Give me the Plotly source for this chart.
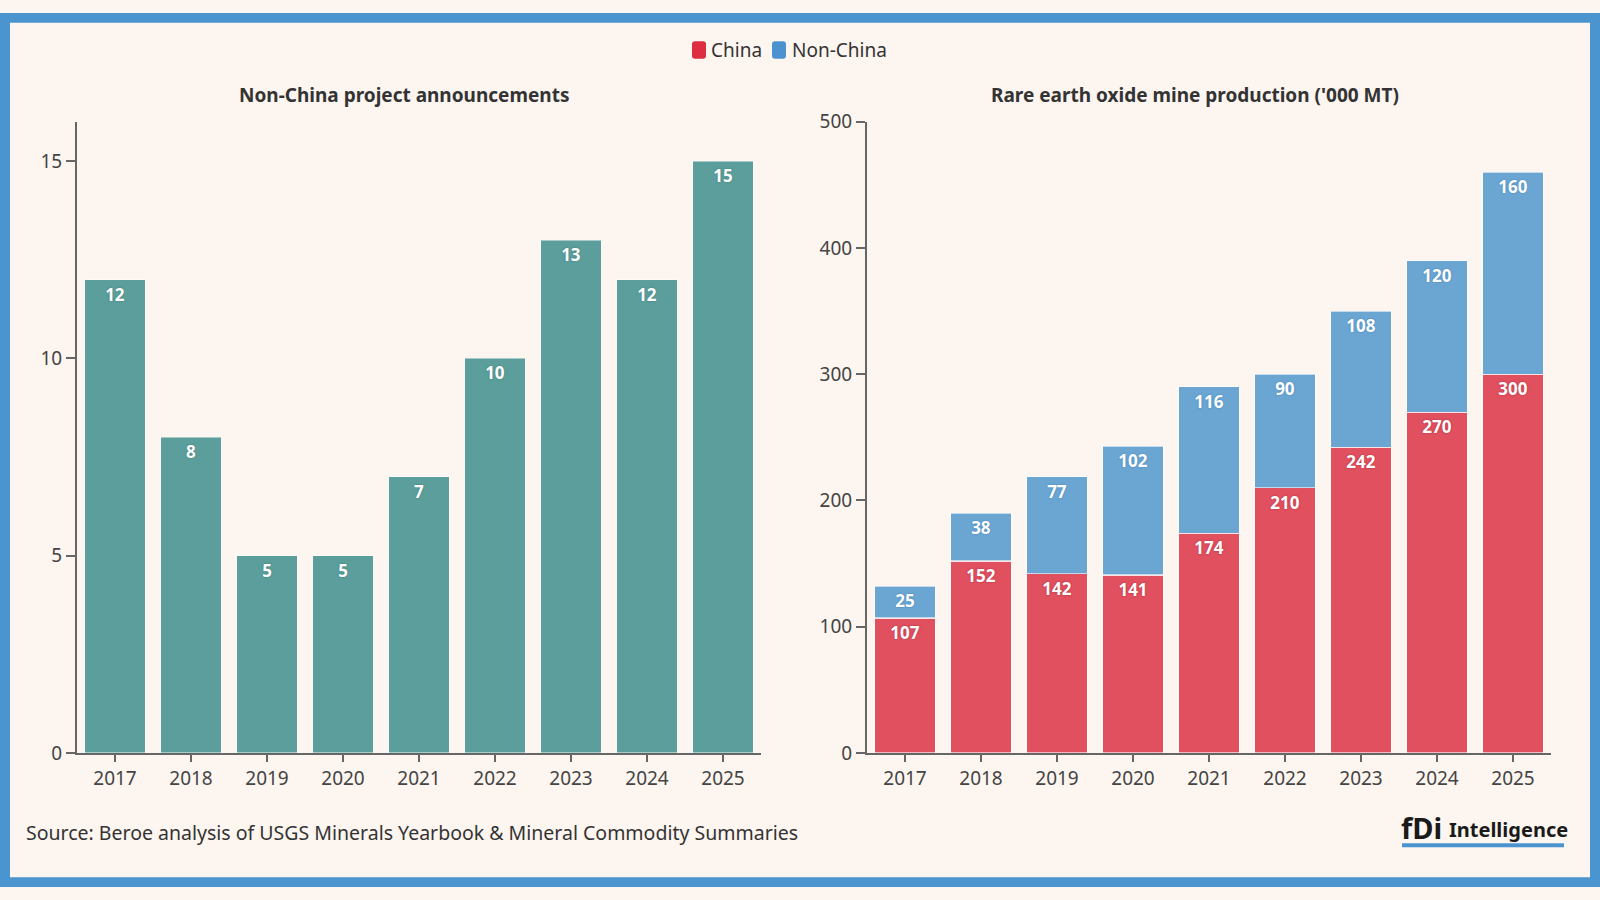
import plotly.graph_objects as go

# ---------------- data ----------------
years = ["2017", "2018", "2019", "2020", "2021", "2022", "2023", "2024", "2025"]
announcements = [12, 8, 5, 5, 7, 10, 13, 12, 15]
china = [107, 152, 142, 141, 174, 210, 242, 270, 300]
non_china = [25, 38, 77, 102, 116, 90, 108, 120, 160]
left_ticks = [0, 5, 10, 15]
right_ticks = [0, 100, 200, 300, 400, 500]

# ---------------- styling ----------------
W, H = 1600, 900
BG = "#FDF5F0"
FRAME = "#4A94D0"
TEAL = "#5C9E9B"
RED = "#E0505F"
BLUE = "#6BA6D3"
RED_LEG = "#DC2E40"
BLUE_LEG = "#4C92CF"
AXIS = "#666666"
TXT = "#333333"
FONT = "Noto Sans"

def px(x):
    return x / W

def py(y):
    return 1 - y / H

fig = go.Figure()

fig.add_trace(go.Bar(
    x=years, y=announcements, name="Non-China announcements",
    marker=dict(color=TEAL, line=dict(color="rgba(255,255,255,0.45)", width=1)),
    text=announcements, textposition="inside", insidetextanchor="end",
    textangle=0,
    textfont=dict(family=FONT, size=17, color="white", weight="bold",
                  shadow="0px 0px 2px #3d7a77"),
    xaxis="x", yaxis="y", showlegend=False, width=0.8,
))

fig.add_trace(go.Bar(
    x=years, y=china, name="China",
    marker=dict(color=RED, line=dict(color="rgba(255,255,255,0.6)", width=1.2)),
    text=china, textposition="inside", insidetextanchor="end", textangle=0,
    textfont=dict(family=FONT, size=17, color="white", weight="bold",
                  shadow="0px 0px 2px #b02a38"),
    xaxis="x2", yaxis="y2", showlegend=False, width=0.8,
))
fig.add_trace(go.Bar(
    x=years, y=non_china, name="Non-China",
    marker=dict(color=BLUE, line=dict(color="rgba(255,255,255,0.6)", width=1.2)),
    text=non_china, textposition="inside", insidetextanchor="end", textangle=0,
    textfont=dict(family=FONT, size=17, color="white", weight="bold",
                  shadow="0px 0px 2px #3f7db0"),
    xaxis="x2", yaxis="y2", showlegend=False, width=0.8,
))

y_dom = [py(762), py(112)]
common_x = dict(type="category", range=[-0.5, 8.5], showline=True, linecolor=AXIS,
                linewidth=2, ticks="outside", ticklen=7, tickwidth=2, tickcolor=AXIS,
                showgrid=False, zeroline=False, fixedrange=True,
                tickfont=dict(family=FONT, size=19, color="#444444"))
common_y = dict(showline=True, linecolor=AXIS, linewidth=2, ticks="outside",
                ticklen=9, tickwidth=2, tickcolor=AXIS, showgrid=False,
                zeroline=False, fixedrange=True,
                tickfont=dict(family=FONT, size=19, color="#444444"))

fig.update_layout(
    width=W, height=H,
    paper_bgcolor=BG, plot_bgcolor=BG,
    margin=dict(l=0, r=0, t=0, b=0),
    barmode="stack",
    font=dict(family=FONT, color=TXT),
    xaxis=dict(domain=[px(77), px(761)], anchor="y", **common_x),
    yaxis=dict(domain=y_dom, anchor="x", range=[0, 16], tickvals=left_ticks, **common_y),
    xaxis2=dict(domain=[px(867), px(1551)], anchor="y2", **common_x),
    yaxis2=dict(domain=y_dom, anchor="x2", range=[0, 500], tickvals=right_ticks, **common_y),
    showlegend=False,
)

ann = []
ann.append(dict(text="<b>Non-China project announcements</b>", x=px(404), y=py(84),
                xref="paper", yref="paper", showarrow=False, xanchor="center",
                yanchor="middle", font=dict(family=FONT, size=19, color=TXT)))
ann.append(dict(text="<b>Rare earth oxide mine production ('000 MT)</b>", x=px(1195), y=py(84),
                xref="paper", yref="paper", showarrow=False, xanchor="center",
                yanchor="middle", font=dict(family=FONT, size=19, color=TXT)))
ann.append(dict(text="Source: Beroe analysis of USGS Minerals Yearbook & Mineral Commodity Summaries",
                x=px(24), y=py(844), xref="paper", yref="paper", showarrow=False,
                xanchor="left", yanchor="middle", font=dict(family=FONT, size=19.5, color=TXT)))
ann.append(dict(text="China", x=px(709), y=py(38), xref="paper", yref="paper",
                showarrow=False, xanchor="left", yanchor="middle",
                font=dict(family=FONT, size=19, color=TXT)))
ann.append(dict(text="Non-China", x=px(790), y=py(38), xref="paper", yref="paper",
                showarrow=False, xanchor="left", yanchor="middle",
                font=dict(family=FONT, size=19, color=TXT)))
ann.append(dict(text="<b>fDi</b>", x=px(1399), y=py(839), xref="paper", yref="paper",
                showarrow=False, xanchor="left", yanchor="middle",
                font=dict(family="Liberation Sans Narrow, " + FONT, size=29, color="#1a1a1a")))
ann.append(dict(text="<b>Intelligence</b>", x=px(1447), y=py(841), xref="paper", yref="paper",
                showarrow=False, xanchor="left", yanchor="middle",
                font=dict(family=FONT, size=20, color="#1a1a1a")))
fig.update_layout(annotations=ann)

def rounded_rect(x0, y0, x1, y1, r):
    X = lambda v: px(v)
    Y = lambda v: py(v)
    rx, ry = r / W, r / H
    return (f"M {X(x0)+rx},{Y(y0)} L {X(x1)-rx},{Y(y0)} Q {X(x1)},{Y(y0)} {X(x1)},{Y(y0)-ry} "
            f"L {X(x1)},{Y(y1)+ry} Q {X(x1)},{Y(y1)} {X(x1)-rx},{Y(y1)} "
            f"L {X(x0)+rx},{Y(y1)} Q {X(x0)},{Y(y1)} {X(x0)},{Y(y1)+ry} "
            f"L {X(x0)},{Y(y0)-ry} Q {X(x0)},{Y(y0)} {X(x0)+rx},{Y(y0)} Z")

shapes = []
shapes.append(dict(type="path", xref="paper", yref="paper",
                   path=rounded_rect(692, 29, 706, 47, 3), fillcolor=RED_LEG, line=dict(width=0)))
shapes.append(dict(type="path", xref="paper", yref="paper",
                   path=rounded_rect(772, 29, 786, 47, 3), fillcolor=BLUE_LEG, line=dict(width=0)))
shapes.append(dict(type="rect", xref="paper", yref="paper", x0=px(1402), x1=px(1564),
                   y0=py(859), y1=py(855), fillcolor=FRAME, line=dict(width=0)))
for (x0, y0, x1, y1) in [(0, 0, 10, 900), (1590, 0, 1600, 900), (0, 0, 1600, 10), (0, 890, 1600, 900)]:
    shapes.append(dict(type="rect", xref="paper", yref="paper", x0=px(x0), x1=px(x1),
                       y0=py(y1), y1=py(y0), fillcolor=FRAME, line=dict(width=0), layer="above"))
fig.update_layout(shapes=shapes)

fig.write_html(
    "out.html",
    config={"displayModeBar": False},
    post_script=(
        "document.body.style.margin='0';document.body.style.overflow='hidden';"
        "var d=document.getElementById('{plot_id}');"
        "d.style.position='fixed';d.style.top='0px';d.style.left='0px';"
    ),
)
